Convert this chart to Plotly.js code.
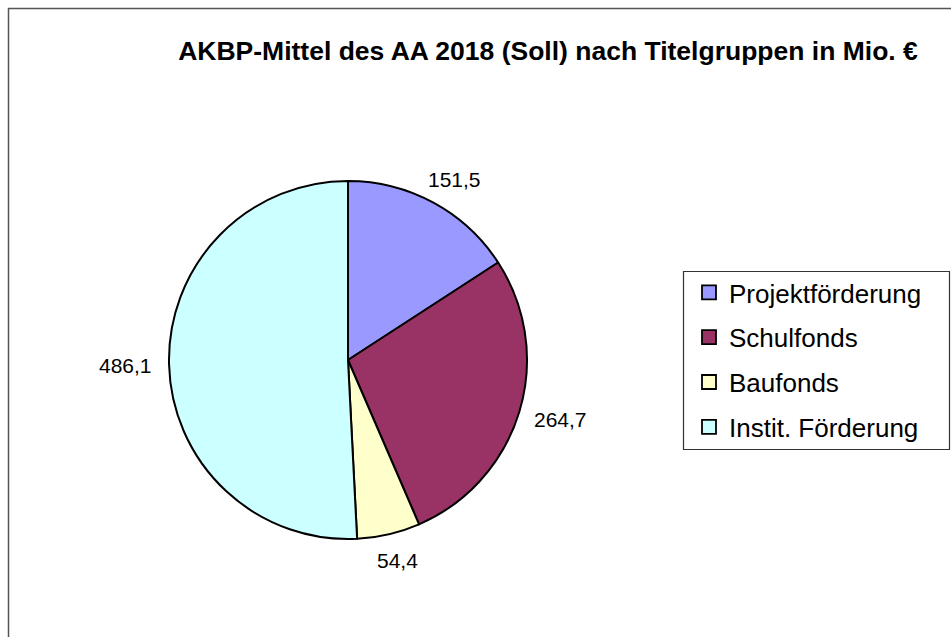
<!DOCTYPE html>
<html>
<head>
<meta charset="utf-8">
<script src="https://cdn.plot.ly/plotly-3.0.1.min.js"></script>
<style>
  html, body { margin: 0; padding: 0; background: #ffffff; }
  #chart { width: 951px; height: 637px; }
</style>
</head>
<body>
<div id="chart"></div>
<script>
// ---- data ----
const categories = ['Projektförderung', 'Schulfonds', 'Baufonds', 'Instit. Förderung'];
const values = [151.5, 264.7, 54.4, 486.1];
const colors = ['#9999FF', '#993366', '#FFFFCC', '#CCFFFF'];
const titleText = 'AKBP-Mittel des AA 2018 (Soll) nach Titelgruppen in Mio. €';

// ---- layout constants ----
const W = 951, H = 637;
const FONT = 'Arial, "Liberation Sans", sans-serif';
const pieDomain = { x: [169 / W, 527 / W], y: [1 - 539 / H, 1 - 181 / H] };
const labelSize = 21;

function fmt(v) { return v.toFixed(1).replace('.', ','); }

// pie trace
const pie = {
  type: 'pie',
  labels: categories,
  values: values,
  sort: false,
  direction: 'clockwise',
  rotation: 0,
  textinfo: 'none',
  hoverinfo: 'label+value',
  showlegend: false,
  marker: { colors: colors, line: { color: '#000000', width: 2 } },
  domain: pieDomain
};

// legend entries (one per category) so the row spacing can match
const legendTraces = categories.map((c, i) => ({
  type: 'scatter',
  x: [null], y: [null],
  mode: 'markers',
  name: c,
  legendgroup: 'g' + i,
  hoverinfo: 'skip',
  marker: { symbol: 'square', size: 14, color: colors[i], line: { color: '#000000', width: 1.8 } }
}));

// outside value labels, positions derived from the data and the pie domain
const total = values.reduce((a, b) => a + b, 0);
const cx = (pieDomain.x[0] + pieDomain.x[1]) / 2 * W;
const cy = (1 - (pieDomain.y[0] + pieDomain.y[1]) / 2) * H;
const R = (pieDomain.x[1] - pieDomain.x[0]) / 2 * W;
const gap = 17;
let cum = 0;
const annotations = values.map((v) => {
  const theta = (cum + v / 2) / total * 2 * Math.PI;
  cum += v;
  const s = Math.sin(theta), c = Math.cos(theta);
  const txt = fmt(v);
  const digits = txt.replace(/[^0-9]/g, '').length;
  const halfW = labelSize * (digits * 0.556 + 0.278) / 2;
  const halfH = labelSize * 0.45;
  const px = cx + (R + gap) * s + halfW * s;
  const py = cy - (R + gap) * c - halfH * c;
  return {
    text: txt,
    x: px / W, y: 1 - py / H,
    xref: 'paper', yref: 'paper',
    xanchor: 'center', yanchor: 'middle',
    showarrow: false,
    font: { family: FONT, size: labelSize, color: '#000000' }
  };
});

const layout = {
  width: W, height: H,
  margin: { l: 0, r: 0, t: 0, b: 0 },
  paper_bgcolor: '#ffffff',
  plot_bgcolor: '#ffffff',
  font: { family: FONT, color: '#000000' },
  title: {
    text: '<b>' + titleText + '</b>',
    font: { family: FONT, size: 26.5, color: '#000000' },
    x: 548 / W, xanchor: 'center', xref: 'paper',
    y: 1 - 51 / H, yanchor: 'middle', yref: 'container'
  },
  xaxis: { visible: false },
  yaxis: { visible: false },
  showlegend: true,
  legend: {
    x: 689 / W, y: 1 - 269 / H, xanchor: 'left', yanchor: 'top',
    borderwidth: 0, bgcolor: 'rgba(0,0,0,0)',
    font: { family: FONT, size: 26, color: '#000000' },
    itemwidth: 30,
    tracegroupgap: 8,
    traceorder: 'grouped'
  },
  annotations: annotations,
  shapes: [
    {
      type: 'rect', xref: 'paper', yref: 'paper',
      x0: 8.5 / W, x1: 1.02, y0: -0.02, y1: 1 - 8.5 / H,
      line: { color: '#555555', width: 1.5 },
      fillcolor: 'rgba(0,0,0,0)', layer: 'below'
    },
    {
      type: 'rect', xref: 'paper', yref: 'paper',
      x0: 683.5 / W, x1: 949.5 / W, y0: 1 - 449.5 / H, y1: 1 - 271.5 / H,
      line: { color: '#333333', width: 1.2 },
      fillcolor: '#ffffff', layer: 'below'
    }
  ]
};

Plotly.newPlot('chart', [pie].concat(legendTraces), layout, { displayModeBar: false, staticPlot: true });
</script>
</body>
</html>
